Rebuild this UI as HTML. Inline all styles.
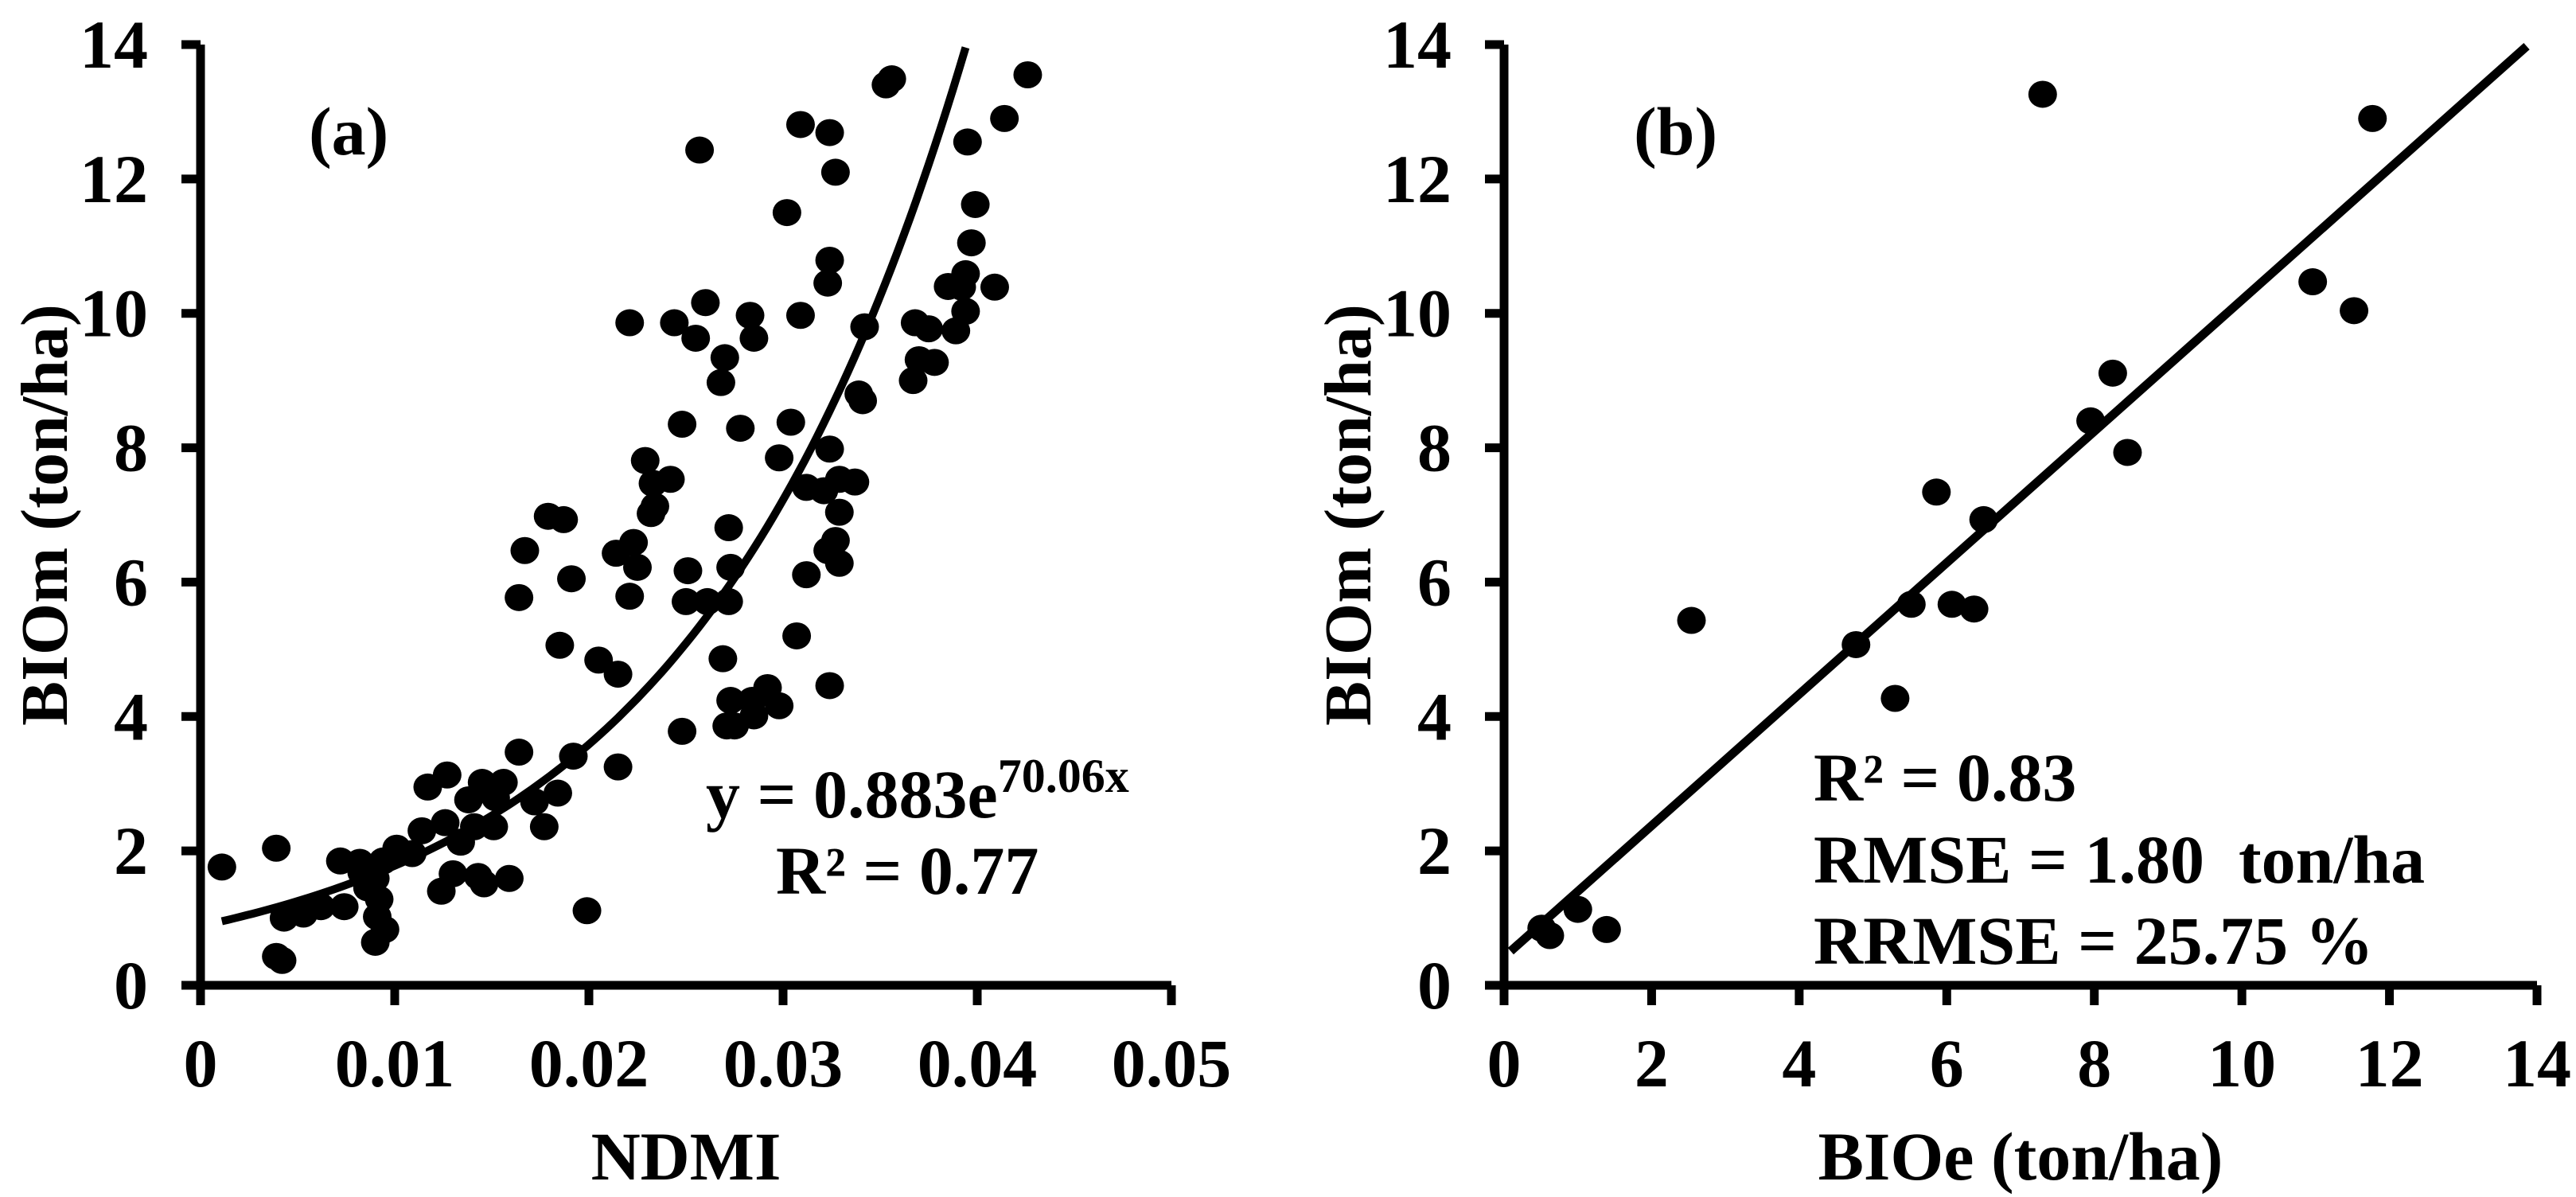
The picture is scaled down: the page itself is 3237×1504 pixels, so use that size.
<!DOCTYPE html>
<html><head><meta charset="utf-8"><style>
html,body{margin:0;padding:0;background:#fff;}
svg{display:block;}
svg text{font-family:"Liberation Serif","Times New Roman",Times,serif;font-weight:700;fill:#000;}
</style></head><body>
<svg id="chart" width="3237" height="1504" viewBox="0 0 3237 1504" xmlns="http://www.w3.org/2000/svg" font-family="Liberation Serif, Times New Roman, serif" font-weight="bold">
<g id="pa"></g>
<g id="pb"></g>
</svg>
<script>
// Panel (a) data
const ndmiValues = [0.0011,0.0039,0.0039,0.0042,0.0043,0.0053,0.0062,0.0072,0.0074,0.0082,0.0083,0.0086,0.009,0.0092,0.0091,0.009,0.0095,0.0094,0.0101,0.0109,0.0114,0.0117,0.0124,0.0126,0.0127,0.013,0.0134,0.0138,0.0141,0.0143,0.0145,0.0146,0.0151,0.0152,0.0156,0.0159,0.0164,0.0164,0.0167,0.0172,0.0177,0.0179,0.0184,0.0185,0.0187,0.0191,0.0192,0.0199,0.0205,0.0214,0.0215,0.0215,0.0221,0.0221,0.0223,0.0225,0.0229,0.0232,0.0233,0.0234,0.0242,0.0244,0.0248,0.0248,0.025,0.0251,0.0255,0.0257,0.0261,0.026,0.0268,0.0269,0.027,0.0271,0.0272,0.0272,0.0273,0.0273,0.0275,0.0278,0.0283,0.0284,0.0285,0.0285,0.0292,0.0298,0.0298,0.0302,0.0304,0.0307,0.0309,0.0309,0.0312,0.0312,0.0321,0.0323,0.0324,0.0324,0.0324,0.0324,0.0323,0.0327,0.0327,0.0329,0.0329,0.0329,0.0337,0.0339,0.0341,0.0342,0.0353,0.0356,0.0367,0.0368,0.037,0.0375,0.0378,0.0385,0.0389,0.0392,0.0394,0.0394,0.0395,0.0397,0.0399,0.0409,0.0414,0.0426];
const bioMeasuredA = [1.76,2.04,0.43,0.37,1.0,1.06,1.17,1.85,1.17,1.83,1.68,1.45,1.59,1.28,1.02,0.64,0.83,1.85,2.04,1.96,2.3,2.95,1.4,2.42,3.13,1.66,2.13,2.76,2.36,1.62,3.02,1.51,2.36,2.79,3.02,1.59,3.47,5.77,6.47,2.73,2.36,6.98,2.86,5.06,6.93,6.05,3.41,1.11,4.84,6.43,3.25,4.63,9.86,5.79,6.59,6.22,7.81,7.02,7.47,7.13,7.53,9.86,8.35,3.78,5.71,6.17,9.63,12.43,5.71,10.16,8.97,4.86,9.34,3.86,5.71,6.81,6.22,4.24,3.86,8.29,9.97,4.24,4.01,9.63,4.43,4.16,7.85,11.5,8.38,5.2,12.81,9.97,7.41,6.11,7.36,10.45,12.69,10.79,7.98,4.46,6.47,12.1,6.62,7.04,6.28,7.53,7.49,8.8,8.7,9.8,13.4,13.49,9.0,9.86,9.31,9.77,9.27,10.4,9.74,10.39,10.03,10.59,12.55,11.05,11.62,10.39,12.9,13.55];
const fitA = [0.883, 70.06];
const fitRangeA = [0.0011, 0.0394];
const xTicksA = [0,0.01,0.02,0.03,0.04,0.05];
const xTickLabelsA = ["0","0.01","0.02","0.03","0.04","0.05"];
const yTicks = [0,2,4,6,8,10,12,14];
const yTickLabels = ["0","2","4","6","8","10","12","14"];
// Panel (b) data
const bioEstimated = [0.51,0.62,1.0,1.39,2.54,4.77,5.3,5.52,5.86,6.07,6.37,6.5,7.3,7.95,8.25,8.45,10.96,11.52,11.77];
const bioMeasuredB = [0.85,0.74,1.13,0.83,5.43,5.07,4.27,5.67,7.34,5.67,5.6,6.93,13.26,8.4,9.11,7.93,10.47,10.04,12.9];
const lineB = [0.978, 0.42];
const lineRangeB = [0.09, 13.86];
const xTicksB = [0,2,4,6,8,10,12,14];
const xTickLabelsB = ["0","2","4","6","8","10","12","14"];

const NS = "http://www.w3.org/2000/svg";
const FONT = "Liberation Serif, Times New Roman, serif";
function mk(parent, tag, attrs, txt){
  const e = document.createElementNS(NS, tag);
  for (const k in attrs) e.setAttribute(k, attrs[k]);
  if (tag === "text") { e.setAttribute("font-family", FONT); e.setAttribute("font-weight", "bold"); }
  if (txt !== undefined) e.textContent = txt;
  parent.appendChild(e); return e;
}
const Y0 = 1238, Y1 = 56;
function yScale(v){ return Y0 + (Y1 - Y0) * v / 14; }

function axes(g, x0, x1, xmax, xTicks, xLabels, titleX, titleY, yTitleX){
  const xs = v => x0 + (x1 - x0) * v / xmax;
  const ax = mk(g, "path", {d:`M${x0} ${Y1}V${Y0}H${x1}`, fill:"none", stroke:"#000", "stroke-width":11});
  
  
  xTicks.forEach((v,i)=>{
    const t = mk(g, "line", {x1:xs(v), x2:xs(v), y1:Y0, y2:Y0+25, stroke:"#000", "stroke-width":11});
    
    
    const l = mk(g, "text", {x:xs(v), y:1365, "font-size":86, "text-anchor":"middle"}, xLabels[i]);
    
    
  });
  yTicks.forEach((v,i)=>{
    const t = mk(g, "line", {x1:x0-24, x2:x0, y1:yScale(v), y2:yScale(v), stroke:"#000", "stroke-width":11});
    
    
    const l = mk(g, "text", {x:x0-66, y:yScale(v)+29, "font-size":86, "text-anchor":"end"}, yTickLabels[i]);
    
    
  });
  const xt = mk(g, "text", {x:(x0+x1)/2, y:1482, "font-size":86, "text-anchor":"middle"}, titleX);
  
  
  const yt = mk(g, "text", {x:0, y:0, "font-size":84, "text-anchor":"middle", transform:`translate(${yTitleX},${(Y0+Y1)/2}) rotate(-90)`}, titleY);
  
  
  return xs;
}

// Panel a
const ga = document.getElementById("pa");
const xsA = axes(ga, 252, 1472, 0.05, xTicksA, xTickLabelsA, "NDMI", "BIOm (ton/ha)", 84);
ndmiValues.forEach((v,i)=>{
  const c = mk(ga, "ellipse", {cx:xsA(v), cy:yScale(bioMeasuredA[i]), rx:18, ry:17, fill:"#000"});
  
  
});
let d = "";
for (let k=0;k<=120;k++){
  const x = fitRangeA[0] + (fitRangeA[1]-fitRangeA[0])*k/120;
  const y = fitA[0]*Math.exp(fitA[1]*x);
  d += (k?"L":"M") + xsA(x).toFixed(1) + " " + yScale(y).toFixed(1);
}
const curve = mk(ga, "path", {d, fill:"none", stroke:"#000", "stroke-width":10});


const la = mk(ga, "text", {x:388, y:194, "font-size":86}, "(a)");


const eq = mk(ga, "text", {x:887, y:1027, "font-size":86});


eq.textContent = "y = 0.883e";
const sup = mk(eq, "tspan", {dy:-32, "font-size":60}, "70.06x");


const r2a = mk(ga, "text", {x:975, y:1123, "font-size":86}, "R² = 0.77");



// Panel b
const gb = document.getElementById("pb");
const xsB = axes(gb, 1890, 3188, 14, xTicksB, xTickLabelsB, "BIOe (ton/ha)", "BIOm (ton/ha)", 1722);
bioEstimated.forEach((v,i)=>{
  const c = mk(gb, "ellipse", {cx:xsB(v), cy:yScale(bioMeasuredB[i]), rx:18, ry:17, fill:"#000"});
  
  
});
const ln = mk(gb, "line", {x1:xsB(lineRangeB[0]), y1:yScale(lineB[0]*lineRangeB[0]+lineB[1]), x2:xsB(lineRangeB[1]), y2:yScale(lineB[0]*lineRangeB[1]+lineB[1]), stroke:"#000", "stroke-width":11});


const lb = mk(gb, "text", {x:2053, y:194, "font-size":86}, "(b)");


const s1 = mk(gb, "text", {x:2279, y:1006, "font-size":86}, "R² = 0.83");


const s2 = mk(gb, "text", {x:2279, y:1109, "font-size":86}, "RMSE = 1.80\u00a0 ton/ha");


const s3 = mk(gb, "text", {x:2279, y:1211, "font-size":86}, "RRMSE = 25.75 %");


</script>
</body></html>
